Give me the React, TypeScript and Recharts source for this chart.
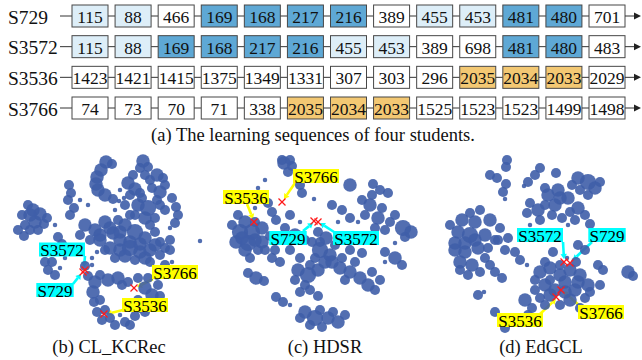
import React from 'react';
import { ScatterChart, Scatter, XAxis, YAxis, ZAxis, ReferenceDot, ReferenceLine } from 'recharts';

// (a) learning sequences
const students = ['S729', 'S3572', 'S3536', 'S3766'];
const seqS729 = [115, 88, 466, 169, 168, 217, 216, 389, 455, 453, 481, 480, 701];
const seqS3572 = [115, 88, 169, 168, 217, 216, 455, 453, 389, 698, 481, 480, 483];
const seqS3536 = [1423, 1421, 1415, 1375, 1349, 1331, 307, 303, 296, 2035, 2034, 2033, 2029];
const seqS3766 = [74, 73, 70, 71, 338, 2035, 2034, 2033, 1525, 1523, 1523, 1499, 1498];
// n = plain, l = shared (light), d = shared run (dark), g = shared run (gold)
const markS729 = ['l', 'l', 'n', 'd', 'd', 'd', 'd', 'n', 'l', 'l', 'd', 'd', 'n'];
const markS3572 = ['l', 'l', 'd', 'd', 'd', 'd', 'l', 'l', 'n', 'n', 'd', 'd', 'n'];
const markS3536 = ['n', 'n', 'n', 'n', 'n', 'n', 'n', 'n', 'n', 'g', 'g', 'g', 'n'];
const markS3766 = ['n', 'n', 'n', 'n', 'n', 'g', 'g', 'g', 'n', 'n', 'n', 'n', 'n'];

// t-SNE embeddings, [x, y, weight]
const cloudB = [
  [106,162,3],[112,164,2],[101,170,3],[97,177,3],[96,184,3],[98,190,3],[105,195,3],[113,199,2],[119,201,1],
  [143,161,3],[148,167,2],[140,168,2],[157,175,3],[163,178,2],[145,175,2],[150,180,2],[133,175,2],
  [128,183,3],[135,189,3],[130,195,2],[140,193,2],[152,188,2],[160,192,3],[157,200,2],[120,190,1],[124,198,1],
  [138,205,3],[148,208,4],[145,218,3],[135,215,2],[155,218,2],[125,205,2],[165,185,2],[142,198,2],[165,210,2],[160,205,2],
  [172,198,2],[176,207,2],[178,215,2],[175,223,2],[170,228,1],
  [28,205,2],[33,210,3],[40,214,3],[35,222,3],[25,225,2],[44,224,2],[18,230,2],[24,236,2],[30,215,3],[22,215,2],[38,230,2],[30,230,2],[47,218,2],
  [69,185,2],[71,193,2],[68,200,2],[74,208,2],[70,215,2],
  [85,225,3],[95,230,3],[105,222,3],[113,233,3],[120,240,3],[90,240,2],[100,240,3],[80,235,2],
  [125,225,3],[135,232,4],[145,238,3],[155,232,2],[130,242,3],[160,242,2],[170,240,2],[200,241,1],
  [100,235,3],[110,228,3],[120,232,3],[140,244,3],[125,256,3],[145,258,3],[105,250,2],[118,220,2],[130,215,2],[150,225,2],[165,248,2],[155,245,3],
  [58,237,2],[62,244,2],[55,225,1],[88,205,1],[115,210,1],[80,200,1],
  [110,248,3],[120,250,3],[130,248,4],[140,252,3],[150,250,3],[160,255,2],[170,250,2],[115,258,2],[135,260,2],[150,262,2],
  [92,258,1],[97,252,1],[45,262,2],[48,270,2],[52,262,2],[55,275,2],[60,268,1],[65,258,1],
  [85,266,2],[88,276,2],[92,265,1],
  [95,282,3],[93,292,3],[94,302,2],[97,312,2],[102,320,2],[100,275,2],[100,300,2],[105,310,2],
  [108,280,3],[118,278,3],[128,282,2],[138,278,2],[122,285,2],[148,278,2],[157,275,2],
  [145,288,3],[152,295,3],[150,305,3],[158,285,2],[145,312,2],[138,300,2],[160,296,2],[140,308,2],
  [110,318,2],[115,325,2],[125,322,2],[135,316,2],[130,325,2],[120,315,1],[165,265,2],[172,262,1],
];
const cloudC = [
  [284,163,3],[292,166,2],[288,172,2],[296,178,1],[300,185,2],[302,193,2],[282,160,2],[290,160,2],
  [350,185,3],[373,184,2],[380,190,2],[388,193,2],[372,195,2],
  [362,200,2],[370,205,3],[382,208,2],[365,215,2],[378,218,3],[390,222,2],[358,222,1],[395,215,2],[385,230,2],[375,228,2],
  [403,228,4],[411,232,3],[405,237,2],[395,243,1],
  [238,215,2],[245,222,3],[240,232,4],[252,232,4],[262,228,3],[248,243,4],[262,242,3],[270,236,2],[236,242,3],[245,250,3],[258,250,2],
  [232,225,2],[255,240,3],[242,238,3],[255,222,2],[265,250,2],[250,258,2],
  [262,195,2],[268,203,2],[272,212,2],[276,220,2],[255,208,1],
  [290,215,2],[285,228,2],[295,235,3],[305,240,2],[300,222,1],
  [318,232,2],[326,238,3],[312,242,2],[320,242,2],
  [332,205,2],[342,210,2],[350,218,2],[338,222,1],[314,199,1],[265,180,1],[258,188,1],
  [272,258,2],[280,262,2],[275,250,2],[248,273,2],[256,278,3],[264,281,2],
  [298,270,3],[308,275,4],[318,270,3],[305,285,2],[295,280,2],
  [320,250,4],[330,255,3],[315,258,2],[335,245,2],[325,262,3],[310,265,2],[332,262,3],[342,258,2],[300,258,2],[290,250,2],
  [340,268,3],[350,272,3],[360,278,3],[368,285,3],[375,290,2],[345,280,2],[350,250,2],[362,253,2],[355,262,2],[372,272,2],[380,280,2],
  [385,252,2],[395,258,3],[402,265,2],[385,262,1],
  [276,297,2],[283,302,2],[290,305,1],[300,292,2],[310,290,2],[318,296,2],
  [305,312,3],[315,318,4],[328,318,3],[338,322,3],[310,325,2],[322,327,2],[345,315,2],[320,310,2],[333,312,2],[300,318,2],
];
const cloudD = [
  [507,160,2],[506,167,2],[490,175,2],[497,178,2],[506,184,2],[503,192,2],[505,199,1],
  [540,168,2],[535,175,2],[528,182,2],[524,186,1],[556,173,2],
  [578,178,3],[588,182,4],[595,188,3],[580,190,2],[572,185,2],[588,195,2],[600,182,2],
  [548,195,3],[558,190,3],[568,198,3],[555,205,3],[545,205,2],[560,198,3],[545,188,2],
  [530,203,2],[538,210,3],[527,213,2],[578,208,3],[585,215,2],[575,220,2],[570,212,2],
  [552,215,2],[562,218,2],[568,225,1],[590,224,2],[540,220,2],[530,225,1],
  [470,213,2],[480,210,2],[462,220,3],[475,222,3],[490,220,3],[500,228,2],[458,232,3],[470,235,4],[485,235,3],[498,240,2],[508,238,2],[455,243,3],
  [455,250,3],[465,252,3],[478,248,3],[460,262,3],[472,265,3],[468,275,2],[480,272,2],[485,258,2],
  [465,243,3],[475,240,3],[488,248,2],[450,225,2],[460,270,2],[490,265,2],[495,240,2],
  [505,250,2],[515,252,2],[495,272,2],[502,278,2],[520,260,2],[527,265,1],
  [540,272,3],[550,268,3],[560,275,3],[570,270,3],[580,275,3],[588,285,3],[545,285,3],[555,290,3],[575,290,3],[585,298,2],[570,300,3],[540,298,2],[560,305,2],[580,308,2],[550,280,2],
  [565,282,3],[550,295,3],[565,292,3],[578,282,3],[535,290,2],[545,305,2],[590,292,2],[560,265,2],[535,280,2],
  [525,300,3],[532,308,2],[528,315,2],[598,265,2],[603,270,2],[628,272,3],[633,276,2],
  [478,295,2],[484,292,1],[495,312,2],[505,328,2],[578,245,2],[585,250,2],[553,252,2],
  [545,262,2],[567,258,1],[576,262,2],[600,285,2],
];

// student positions in each embedding
const pointsB = [['S729', 83, 272], ['S3572', 85, 270], ['S3766', 134, 288], ['S3536', 104, 314]];
const pointsC = [['S729', 314, 221], ['S3572', 318, 222], ['S3766', 282, 202], ['S3536', 254, 222]];
const pointsD = [['S729', 570, 263], ['S3572', 564, 262], ['S3766', 561, 290], ['S3536', 556, 297]];

// callouts: name, label center, arrow from -> to
const calloutsB = [
  ['S3572', 62, 249.5, 85, 256, 84, 267],
  ['S729', 55, 290, 73, 284, 81, 274],
  ['S3766', 175, 272, 153, 279, 137, 287],
  ['S3536', 145, 305, 123, 310, 107, 314],
];
const calloutsC = [
  ['S3766', 316, 176, 295, 183, 284, 199],
  ['S3536', 246, 197, 247, 204, 253, 219],
  ['S729', 288, 238, 303, 231, 313, 223],
  ['S3572', 356, 238, 334, 232, 320, 223],
];
const calloutsD = [
  ['S3572', 540, 235, 563, 242, 564, 259],
  ['S729', 607, 235, 592, 242, 573, 260],
  ['S3766', 601, 312, 580, 306, 563, 291],
  ['S3536', 520, 320, 540, 314, 556, 299],
];

const SERIF = "'Liberation Serif', 'Times New Roman', Times, serif";
const FILL: Record<string, string> = { n: '#ffffff', l: '#ddeef8', d: '#5ea8d5', g: '#f3c873' };
const DOT = '#3f5ea8';
const HL: Record<string, string> = { S729: '#00ffff', S3572: '#00ffff', S3536: '#ffff00', S3766: '#ffff00' };

const seqRows = [seqS729, seqS3572, seqS3536, seqS3766];
const markRows = [markS729, markS3572, markS3536, markS3766];
const cells = seqRows.flatMap((seq, row) => seq.map((v, col) => ({ row, col, v, m: markRows[row][col] })));
const toPts = (arr: number[][]) => arr.map(([x, y, w]) => ({ x, y, w }));
const embeddings = [cloudB, cloudC, cloudD].map(toPts);
const students2d = [...pointsB, ...pointsC, ...pointsD].map(([name, x, y]) => ({ name, x, y }));
const callouts = [...calloutsB, ...calloutsC, ...calloutsD];

const SeqBox = (p: any) => {
  const { cx, cy, payload } = p;
  const w = 36, h = 22, left = cx - w / 2;
  const lead = payload.col === 0 ? 12 : 7;
  return (
    <g>
      <line x1={left - lead} y1={cy} x2={left} y2={cy} stroke="#333" strokeWidth={1} />
      <rect x={left} y={cy - h / 2} width={w} height={h} fill={FILL[payload.m]} stroke="#474747" strokeWidth={1} />
      <text x={cx} y={cy + 1} textAnchor="middle" dominantBaseline="central" style={{ fontFamily: SERIF }} fontSize={17.5} fill="#111">
        {payload.v}
      </text>
      {payload.col === 12 && (
        <g>
          <line x1={left + w} y1={cy} x2={left + w + 10} y2={cy} stroke="#333" strokeWidth={1} />
          <polygon points={`${left + w + 9},${cy - 3.5} ${left + w + 16},${cy} ${left + w + 9},${cy + 3.5}`} fill="#222" />
        </g>
      )}
    </g>
  );
};

const Cross = (p: any) => {
  const { cx, cy } = p;
  const s = 3.5;
  return (
    <g stroke="#ff1a1a" strokeWidth={1.3}>
      <line x1={cx - s} y1={cy - s} x2={cx + s} y2={cy + s} />
      <line x1={cx - s} y1={cy + s} x2={cx + s} y2={cy - s} />
    </g>
  );
};

const labelShape = (name: string) => (p: any) => {
  const w = name.length * 8.6 + 3, h = 14;
  return (
    <g>
      <rect x={p.cx - w / 2} y={p.cy - h / 2} width={w} height={h} fill={HL[name]} />
      <text x={p.cx} y={p.cy + 1} textAnchor="middle" dominantBaseline="central" style={{ fontFamily: SERIF }} fontSize={17} fill="#000">
        {name}
      </text>
    </g>
  );
};

const arrowShape = (color: string) => (p: any) => {
  const { x1, y1, x2, y2 } = p;
  const dx = x2 - x1, dy = y2 - y1, len = Math.hypot(dx, dy) || 1;
  const ux = dx / len, uy = dy / len, hl = 5, hw = 3.2;
  const bx = x2 - ux * hl, by = y2 - uy * hl;
  return (
    <g>
      <line x1={x1} y1={y1} x2={bx} y2={by} stroke={color} strokeWidth={2.6} />
      <polygon points={`${x2},${y2} ${bx - uy * hw},${by + ux * hw} ${bx + uy * hw},${by - ux * hw}`} fill={color} />
    </g>
  );
};

const caption = (text: string, cx: number, cy: number) => (
  <div style={{ position: 'absolute', left: cx - 250, top: cy - 11, width: 500, textAlign: 'center', fontFamily: SERIF, fontSize: 18.5, lineHeight: '22px', color: '#111' }}>
    {text}
  </div>
);

export default function App() {
  return (
    <div style={{ position: 'absolute', left: 0, top: 0, width: 642, height: 360, background: '#fff', overflow: 'hidden', fontFamily: SERIF }}>
      <div style={{ position: 'absolute', left: 0, top: 0 }}>
        <ScatterChart width={642} height={125} margin={{ top: 16, right: 35, bottom: 17, left: 0 }}>
          <XAxis type="number" dataKey="col" domain={[0, 12]} hide />
          <YAxis
            type="number"
            dataKey="row"
            domain={[0, 3]}
            reversed
            ticks={[0, 1, 2, 3]}
            width={90}
            axisLine={false}
            tickLine={false}
            tick={(p: any) => (
              <text key={p.index} x={8} y={p.y + 1} dominantBaseline="central" style={{ fontFamily: SERIF }} fontSize={19.5} fill="#111">
                {students[p.payload.value]}
              </text>
            )}
          />
          <Scatter data={cells} shape={SeqBox} isAnimationActive={false} />
        </ScatterChart>
      </div>
      {caption('(a) The learning sequences of four students.', 313, 135)}
      <div style={{ position: 'absolute', left: 0, top: 145 }}>
        <ScatterChart width={642} height={215} margin={{ top: 0, right: 0, bottom: 0, left: 0 }}>
          <XAxis type="number" dataKey="x" domain={[0, 642]} hide />
          <YAxis type="number" dataKey="y" domain={[145, 360]} reversed hide />
          <ZAxis type="number" dataKey="w" domain={[1, 5]} range={[16, 270]} />
          {embeddings.map((pts, i) => (
            <Scatter key={i} data={pts} fill={DOT} fillOpacity={0.9} isAnimationActive={false} />
          ))}
          {callouts.map(([name, , , ax, ay, tx, ty], i) => (
            <ReferenceLine
              key={'a' + i}
              segment={[{ x: ax as number, y: ay as number }, { x: tx as number, y: ty as number }]}
              shape={arrowShape(HL[name as string])}
            />
          ))}
          <Scatter data={students2d} shape={Cross} isAnimationActive={false} />
          {callouts.map(([name, lx, ly], i) => (
            <ReferenceDot key={'l' + i} x={lx as number} y={ly as number} shape={labelShape(name as string)} />
          ))}
        </ScatterChart>
      </div>
      {caption('(b) CL_KCRec', 109, 347)}
      {caption('(c) HDSR', 325, 347)}
      {caption('(d) EdGCL', 541, 347)}
    </div>
  );
}
